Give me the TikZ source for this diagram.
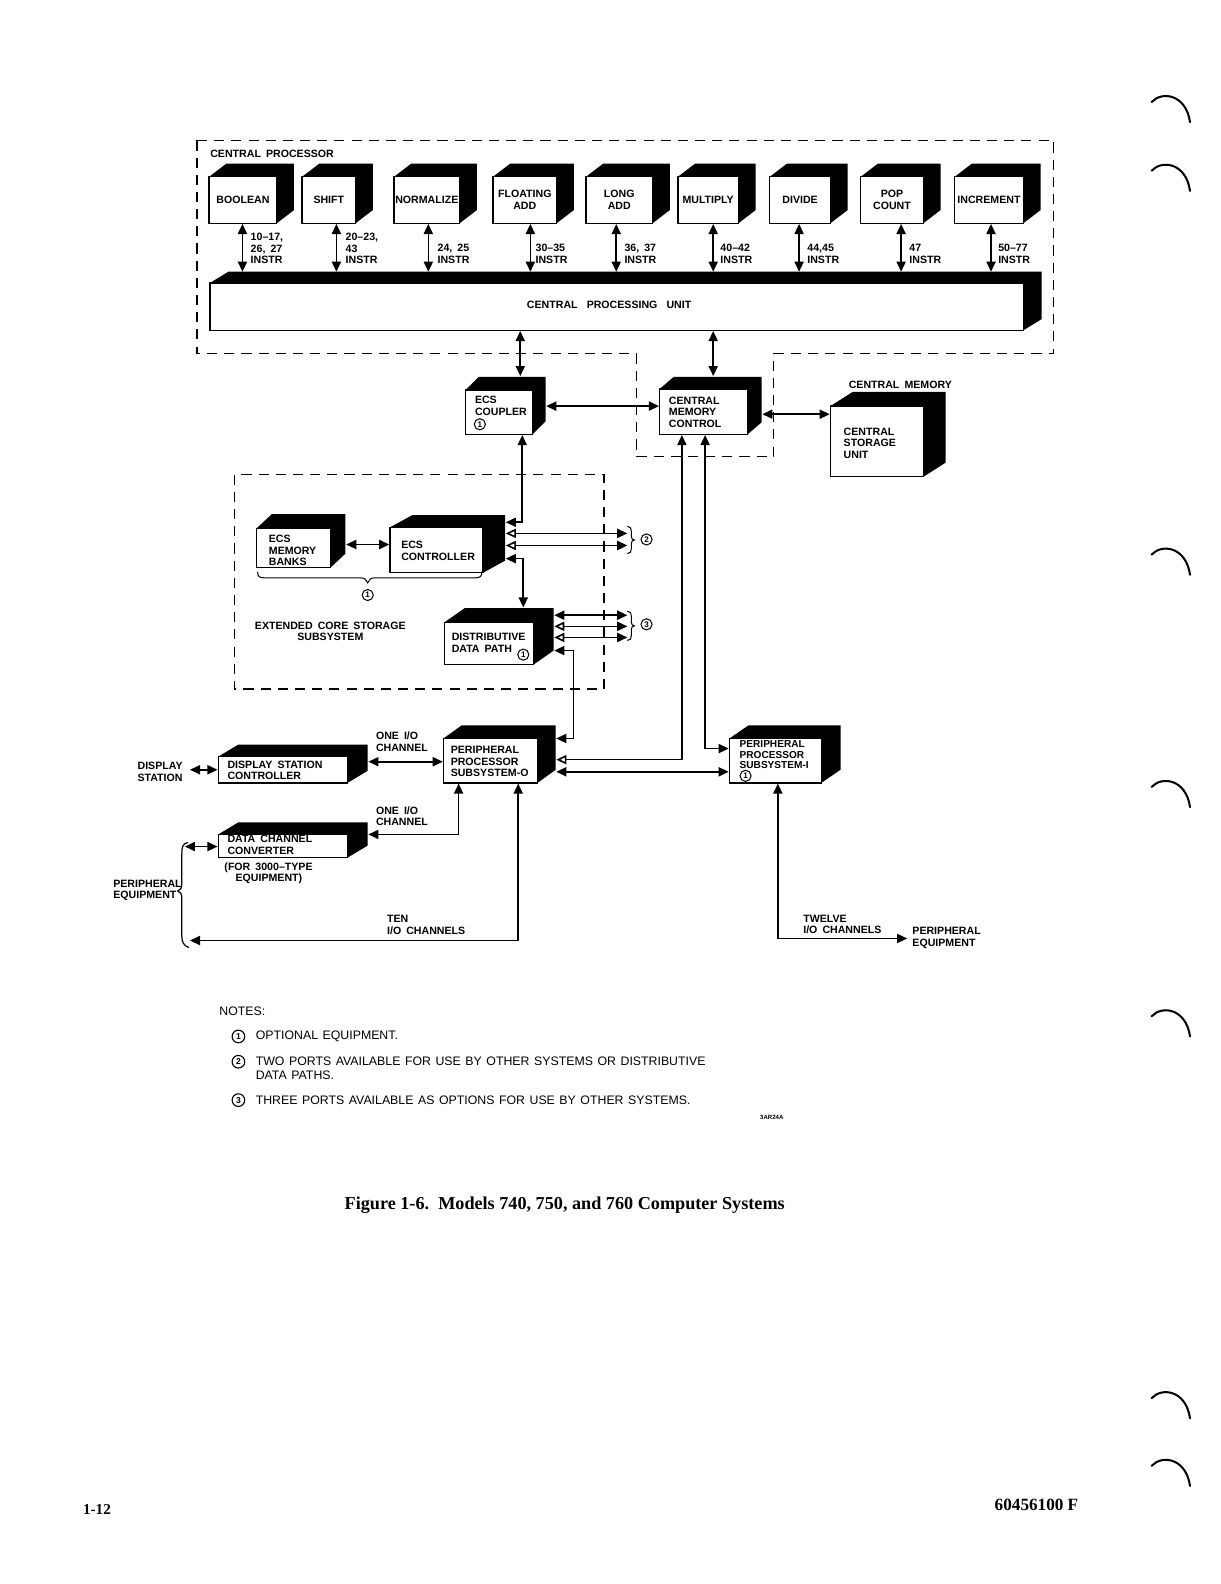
\documentclass[tikz,border=0pt]{standalone}
\usepackage{fontspec}
\setsansfont{Liberation Sans}
\setmainfont{Liberation Serif}
\usetikzlibrary{arrows.meta,calc}
\newcommand{\dfont}{\sffamily\bfseries\fontsize{10.5}{11.5}\selectfont\spaceskip=5pt plus 1pt\relax}
\newcommand{\nfont}{\sffamily\fontsize{12.2}{13}\selectfont\spaceskip=4.5pt plus 1pt\relax}
% #1 name, #2 x1, #3 y1, #4 x2, #5 y2, #6 depth x, #7 depth y, #8 text
\newcommand{\cubebox}[8]{%
  \fill[black] (#2,#3) -- (#2+#6,#3-#7) -- (#4+#6,#3-#7) -- (#4+#6,#5-#7) -- (#4,#5) -- (#4,#3) -- cycle;
  \node[face, minimum width={(#4)-(#2)}, minimum height={(#5)-(#3)}] (#1) at ({((#2)+(#4))/2},{((#3)+(#5))/2}) {#8};
}
\tikzset{
  bt/.tip={Triangle[length=10pt,width=9pt]},
  wt/.tip={Triangle[length=10pt,width=9pt,fill=white]},
  face/.style={draw, line width=1.3pt, fill=white, inner sep=0pt, align=center, font=\dfont},
  lab/.style={font=\dfont, align=left, inner sep=0pt, anchor=west},
  conn/.style={line width=1.6pt},
  dbox/.style={line width=1.3pt, dash pattern=on 10pt off 7pt},
  circnum/.style={circle, draw, line width=1pt, inner sep=0pt, minimum size=11pt, font=\sffamily\bfseries\fontsize{8}{8}\selectfont},
  notecirc/.style={circle, draw, line width=1.1pt, inner sep=0pt, minimum size=12.5pt, font=\sffamily\bfseries\fontsize{8.5}{8.5}\selectfont},
  brc/.style={line width=1pt},
  bindermark/.style={line width=2pt, line cap=round}
}
\begin{document}
\begin{tikzpicture}[x=1pt,y=-1pt]
\path[use as bounding box, fill=white] (0,0) rectangle (1208,1568);

% ---------- dashed boxes ----------
\draw[dbox] (195,139) -- (1043,139) -- (1043,350) -- (766,350) -- (766,452) -- (630,452) -- (630,350) -- (195,350) -- cycle;
\draw[dbox] (232,470) rectangle (598,682);
\node[lab] (cplabel) at (208,152) {CENTRAL PROCESSOR};

% ---------- functional units ----------
\cubebox{boolean}{207}{175}{274}{221}{17}{13}{BOOLEAN}
\cubebox{shift}{299}{175}{352}{221}{17}{13}{SHIFT}
\cubebox{normalize}{390}{175}{455}{221}{17}{13}{NORMALIZE}
\cubebox{floatadd}{488}{175}{551}{221}{17}{13}{FLOATING\\ADD}
\cubebox{longadd}{580}{175}{646}{221}{17}{13}{LONG\\ADD}
\cubebox{multiply}{671}{175}{731}{221}{17}{13}{MULTIPLY}
\cubebox{divide}{762}{175}{822}{221}{17}{13}{DIVIDE}
\cubebox{popcount}{852}{175}{914}{221}{17}{13}{POP\\COUNT}
\cubebox{increment}{945}{175}{1013}{221}{17}{13}{INCREMENT}

% ---------- CPU ----------
\cubebox{cpu}{208}{280}{1013}{327}{18}{11}{}
\node[font=\dfont, inner sep=0pt] (cpulabel) at (603,302) {{\spaceskip=9pt\relax CENTRAL PROCESSING UNIT}};
\coordinate (cputop) at (0,269);

\foreach \n/\s in {boolean/-0.5, shift/7.5, normalize/1.5, floatadd/5.5, longadd/-3, multiply/5, divide/-1, popcount/9, increment/2}
  \draw[conn,bt-bt] ([xshift=\s pt]\n.south) -- ([xshift=\s pt]\n.south |- cputop);

\node[lab] (ib) at (248,246) {10–17,\\26, 27\\INSTR};
\node[lab] (is) at (342,246) {20–23,\\43\\INSTR};
\node[lab] (in) at (433,251.5) {24, 25\\INSTR};
\node[lab] (ifa) at (530,251.5) {30–35\\INSTR};
\node[lab] (ila) at (618,251.5) {36, 37\\INSTR};
\node[lab] (im) at (713,251.5) {40–42\\INSTR};
\node[lab] (id) at (799,251.5) {44,45\\INSTR};
\node[lab] (ip) at (900,251.5) {47\\INSTR};
\node[lab] (ii) at (988,251.5) {50–77\\INSTR};

% ---------- ECS coupler, CMC, central storage ----------
\cubebox{ecsc}{461}{386}{527}{430}{13}{13}{}
\node[lab] (ecsctext) at (470,402) {ECS\\COUPLER};
\node[circnum] (ecscopt) at (475,420) {1};

\cubebox{cmc}{653}{385}{740}{430}{14}{12}{}
\node[lab] (cmctext) at (662,408) {CENTRAL\\MEMORY\\CONTROL};

\cubebox{csu}{822}{402}{914}{472}{22}{14}{}
\node[lab] (csutext) at (835,438.5) {CENTRAL\\STORAGE\\UNIT};
\node[lab] (cmlabel) at (840,381) {CENTRAL MEMORY};

\coordinate (ecscT) at ($(ecsc.north)+(21,-13)$);
\draw[conn,bt-bt] (ecscT |- cpu.south) -- (ecscT);
\coordinate (cmcT) at ($(cmc.north)+(9.5,-12)$);
\draw[conn,bt-bt] (cmcT |- cpu.south) -- (cmcT);
\coordinate (ecscR) at ($(ecsc.east)+(13,-6)$);
\draw[conn,bt-bt] (ecscR) -- (ecscR -| cmc.west);
\coordinate (cmcR) at ($(cmc.east)+(14,2.5)$);
\draw[conn,bt-bt] (cmcR) -- (cmcR -| csu.west);

% ---------- ECS subsystem ----------
\cubebox{ecsmb}{254}{523}{327}{562}{15}{14}{}
\node[lab] (mbtext) at (266,545) {ECS\\MEMORY\\BANKS};
\cubebox{ecsctl}{386}{522}{478}{567}{22}{12}{}
\node[lab] (ctltext) at (397,545) {ECS\\CONTROLLER};
\cubebox{ddp}{440}{616}{528}{658}{20}{14}{}
\node[lab] (ddptext) at (447,636.5) {DISTRIBUTIVE\\DATA PATH};
\node[circnum] (ddpopt) at (518,648) {1};

\coordinate (mbR) at ($(ecsmb.east)+(15,-3.5)$);
\draw[conn,bt-bt] (mbR) -- (mbR -| ecsctl.west);

\coordinate (ctlR) at ($(ecsctl.east)+(22,0)$);
\coordinate (ecscB) at ($(ecsc.south)+(23,0)$);
\draw[conn,bt-bt] (ecscB) |- ($(ctlR)+(0,-27.5)$);

\coordinate (twoA) at (621,528);
\coordinate (twoB) at (621,540);
\draw[conn,wt-bt] (ctlR |- twoA) -- (twoA);
\draw[conn,wt-bt] (ctlR |- twoB) -- (twoB);

\coordinate (ddpT) at ($(ddp.north)+(34,-14)$);
\draw[conn,bt-bt] ($(ctlR)+(0,8.5)$) -| (ddpT);

\coordinate (ddpR) at ($(ddp.east)+(20,0)$);
\coordinate (thrA) at (621,609);
\coordinate (thrB) at (621,620);
\coordinate (thrC) at (621,631);
\draw[conn,bt-bt] (ddpR |- thrA) -- (thrA);
\draw[conn,wt-bt] (ddpR |- thrB) -- (thrB);
\draw[conn,wt-bt] (ddpR |- thrC) -- (thrC);

% braces of the ECS subsystem
\draw[brc] (255,566) .. controls (255,571) and (257,572) .. (262,572) -- (357,572) .. controls (361,572) and (363,574) .. (364,577) .. controls (365,574) and (367,572) .. (371,572) -- (470,572) .. controls (475,572) and (477,571) .. (477,566);
\node[circnum] (ecsopt) at (364,589) {1};
\draw[brc] (621,521) .. controls (624,521) and (625,523) .. (625,526) -- (625,531) .. controls (625,533) and (626,534.5) .. (628,534.5) .. controls (626,534.5) and (625,536) .. (625,538) -- (625,543) .. controls (625,546) and (624,548) .. (621,548);
\node[circnum] (ntwo) at (640,534) {2};
\draw[brc] (621,605) .. controls (624,605) and (625,607) .. (625,610) -- (625,616) .. controls (625,618) and (626,619.5) .. (628,619.5) .. controls (626,619.5) and (625,621) .. (625,623) -- (625,629) .. controls (625,632) and (624,634) .. (621,634);
\node[circnum] (nthree) at (640,618) {3};
\node[font=\dfont, align=center, inner sep=0pt] (ecstext) at (327,625) {EXTENDED CORE STORAGE\\SUBSYSTEM};

% ---------- peripheral processors ----------
\cubebox{ppsz}{439}{731}{532}{775}{18}{13}{}
\node[lab] (ppsztext) at (446,754) {PERIPHERAL\\PROCESSOR\\SUBSYSTEM-O};
\cubebox{ppso}{722}{731}{813}{775}{19}{13}{}
\node[lab, font=\sffamily\bfseries\fontsize{10}{10}\selectfont] (ppsotext) at (732,747) {PERIPHERAL\\PROCESSOR\\SUBSYSTEM-I};
\node[circnum] (ppsoopt) at (738,768) {1};

\coordinate (ppszR) at ($(ppsz.east)+(18,0)$);
\draw[conn,bt-bt] ($(ddpR)+(0,7)$) -- ++(19,0) |- ($(ppszR)+(0,-22)$);

\coordinate (cmcBa) at ($(cmc.south)+(-21.5,0)$);
\coordinate (cmcBb) at ($(cmc.south)+(1.5,0)$);
\draw[conn,bt-wt] (cmcBa) |- ($(ppszR)+(0,-1)$);
\draw[conn,bt-bt] (cmcBb) |- ($(ppso.west)+(0,-12)$);
\coordinate (ppszL) at ($(ppszR)+(0,11)$);
\draw[conn,bt-bt] (ppszL) -- (ppszL -| ppso.west);

% ---------- display station / data channel converter ----------
\cubebox{dsc}{216}{749}{344}{775}{20}{12}{}
\node[lab] (dsctext) at (225,762.5) {DISPLAY STATION\\CONTROLLER};
\coordinate (dscR) at ($(dsc.east)+(20,-8)$);
\draw[conn,bt-bt] (dscR) -- (dscR -| ppsz.west);
\node[lab] (onea) at (372,734.5) {ONE I/O\\CHANNEL};
\node[lab] (dstation) at (136,764) {DISPLAY\\STATION};
\coordinate (dispst) at (188,762);
\draw[conn,bt-bt] (dispst) -- (dispst -| dsc.west);

\cubebox{dcc}{216}{826}{344}{849}{20}{12}{}
\node[lab] (dcctext) at (225,836.5) {DATA CHANNEL\\CONVERTER};
\node[lab] (dccnote) at (222,864.5) {(FOR 3000–TYPE\\\hspace*{11pt}EQUIPMENT)};
\coordinate (ppszBa) at ($(ppsz.south)+(-31.5,0)$);
\coordinate (dccR) at ($(dcc.east)+(20,-11.5)$);
\draw[conn,bt-bt] (ppszBa) |- (dccR);
\node[lab] (oneb) at (372,808) {ONE I/O\\CHANNEL};
\coordinate (periphL) at (183,838);
\draw[conn,bt-bt] (periphL) -- (periphL -| dcc.west);

\coordinate (ppszBb) at ($(ppsz.south)+(27.5,0)$);
\coordinate (tenend) at (188,931);
\draw[conn,bt-bt] (ppszBb) |- (tenend);
\node[lab] (tenlab) at (383,915.5) {TEN\\I/O CHANNELS};

\draw[line width=1.2pt] (186,834) .. controls (181,835) and (180,838) .. (180,845) -- (180,874) .. controls (180,879) and (179,881) .. (176,882) .. controls (179,883) and (180,885) .. (180,890) -- (180,927) .. controls (180,933) and (182,936) .. (187,938);
\node[lab] (peqleft) at (112,881.5) {PERIPHERAL\\EQUIPMENT};

\coordinate (ppsoB) at ($(ppso.south)+(2.5,0)$);
\coordinate (twelveend) at (898,929);
\draw[conn,bt-bt] (ppsoB) |- (twelveend);
\node[lab] (twelvelab) at (795,915) {TWELVE\\I/O CHANNELS};
\node[lab] (peqright) at (903,928.5) {PERIPHERAL\\EQUIPMENT};

% ---------- notes ----------
\node[font=\nfont, anchor=west, inner sep=0pt] (notes) at (217,1001) {NOTES:};
\node[notecirc] (na) at (236,1026) {1};
\node[font=\nfont, anchor=west, inner sep=0pt] (nta) at (253,1026) {OPTIONAL EQUIPMENT.};
\node[notecirc] (nb) at (236,1051) {2};
\node[font=\nfont, anchor=west, align=left, inner sep=0pt] (ntb) at (253,1057.5) {TWO PORTS AVAILABLE FOR USE BY OTHER SYSTEMS OR DISTRIBUTIVE\\DATA PATHS.};
\node[notecirc] (nc) at (236,1089) {3};
\node[font=\nfont, anchor=west, inner sep=0pt] (ntc) at (253,1089) {THREE PORTS AVAILABLE AS OPTIONS FOR USE BY OTHER SYSTEMS.};
\node[font=\sffamily\bfseries\fontsize{6}{6}\selectfont, inner sep=0pt] (code) at (764,1106) {3AR24A};

% ---------- caption and page footer ----------
\node[font=\rmfamily\bfseries\fontsize{18}{20}\selectfont, inner sep=0pt] (caption) at (559,1193) {Figure 1-6.\ \ Models 740, 750, and 760 Computer Systems};
\node[font=\rmfamily\bfseries\fontsize{15}{17}\selectfont, inner sep=0pt] (pnum) at (96,1494) {1-12};
\node[font=\rmfamily\bfseries\fontsize{17}{19}\selectfont, inner sep=0pt] (docnum) at (1026,1490) {60456100 F};

% ---------- binder marks at the page edge ----------
\foreach \y in {92,160,540,770,997,1375,1442}
  \draw[bindermark] (1140,\y+9) .. controls (1150,\y-2) and (1174,\y+1) .. (1178,\y+29);
\end{tikzpicture}
\end{document}
